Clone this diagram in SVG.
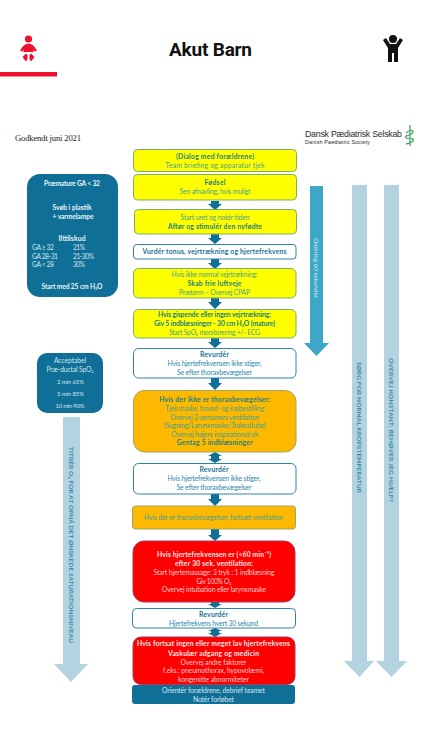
<svg xmlns="http://www.w3.org/2000/svg" width="422" height="750" viewBox="0 0 422 750">
<style>
text{font-family:"Lato","Open Sans",sans-serif;text-anchor:middle;font-size:6.800px}
.y{fill:#4aa08c}.yb{fill:#1c7f7e;font-weight:700}
.w{fill:#2a86ad}.wb{fill:#17709a;font-weight:700}
.r{fill:#ffc9c9}.rb{fill:#ffeaea;font-weight:700}
.n{fill:#cfe6f0}.nb{fill:#e8f4f9;font-weight:700}
.s{text-anchor:start}
.sm{font-size:6.700px}
.ybox{fill:#ffff00;stroke:#79ad6b;stroke-width:1}
.wbox{fill:#fff;stroke:#2f83a8;stroke-width:1}
.obox{fill:#fcb900;stroke:#9ea860;stroke-width:1}
.rbox{fill:#ff0000;stroke:#a83a5a;stroke-width:1}
.nbox{fill:#0f6f96}
.ar{fill:#0f6f96}
.pale{fill:#b2d3df}
.v{fill:#1f7fa6;font-size:6.500px;font-weight:600}
</style>
<rect width="422" height="750" fill="#fff"/>

<g id="header">
<g id="baby-icon" fill="#f01030">
<circle cx="28.500" cy="39" r="3.600"/>
<path d="M20 50.500 Q24 43.500 28.500 43.500 Q33 43.500 37 50.500 L34.500 51.500 L33 49.500 Q33 51 34 52 L23 52 Q24 51 24 49.500 L22.500 51.500Z"/>
<path d="M22.500 57 L26 53.500 L27.500 55 L27.500 59 L26 61.500Z M34.500 57 L31 53.500 L29.500 55 L29.500 59 L31 61.500Z"/>
</g>
<rect id="tab-bar" x="0" y="72" width="57" height="4.500" fill="#f01030"/>
<text id="title" x="210.500" y="55.500" textLength="83" style="font-family:Roboto,sans-serif;font-size:19px;font-weight:700;fill:#111">Akut Barn</text>
<g id="child-icon" fill="#111">
<circle cx="393" cy="39" r="4"/>
<path d="M383 40 L386 38 L390 44 L396 44 L400 38 L403 40 L398 48 L398 62 L394 62 L394 53 L392 53 L392 62 L388 62 L388 48Z"/>
</g>
<text id="approved" x="48" y="140.500" textLength="66" style="font-family:'Liberation Serif',serif;font-size:8.600px;fill:#222">Godkendt juni 2021</text>
<g id="logo">
<text class="s" x="305" y="137" textLength="97" style="font-family:'Liberation Sans',sans-serif;font-size:8.800px;fill:#2b2b2b">Dansk Pædiatrisk Selskab</text>
<text class="s" x="305" y="143.500" textLength="65" style="font-family:'Liberation Sans',sans-serif;font-size:5.400px;fill:#2b2b2b">Danish Paediatric Society</text>
<path d="M410 125 V146 M406 133 Q410 129 413 131 Q414 134 406 136 Q404 139 413 139 Q415 142 406 144" fill="none" stroke="#4ea66a" stroke-width="1.300"/>
</g>
</g>

<g id="connectors">
<path class="ar" d="M211 201H219V204H222L215 210L208 204H211Z"/>
<path class="ar" d="M211 234H219V238H222L215 244L208 238H211Z"/>
<path class="ar" d="M211 259H219V263H222L215 269L208 263H211Z"/>
<path class="ar" d="M211 298H219V302H222L215 309L208 302H211Z"/>
<path class="ar" d="M211 338H219V342H222L215 348L208 342H211Z"/>
<path class="ar" d="M211 378H219V383H222L215 390L208 383H211Z"/>
<path class="ar" d="M215 452L222 456H219V459H222L215 463L208 459H211V456H208Z"/>
<path class="ar" d="M211 494H219V499H222L215 506L208 499H211Z"/>
<path class="ar" d="M211 529H219V535H222L215 541L208 535H211Z"/>
<path class="ar" d="M211 602H219V604H222L215 608L208 604H211Z"/>
<path class="ar" d="M215 628L222 631H219V633H222L215 637L208 633H211V631H208Z"/>
<path id="arrow-timer" fill="#3ea6c6" d="M310 186H323V343H329L316.500 356L304 343H310Z"/>
<path id="arrow-temp" class="pale" d="M352 185H367V661H374L359.500 677L344 661H352Z"/>
<path id="arrow-help" class="pale" d="M384 185H399V661H407L391.500 677L376 661H384Z"/>
<path id="arrow-titrate" class="pale" d="M63 417H80V664H88L71 682L54 664H63Z"/>
<text transform="translate(314.300 268) rotate(90)" textLength="60" style="font-size:6.300px;fill:#d8eef6">Omkring 60 sekunder</text>
<text class="v" transform="translate(357 427.500) rotate(90)" textLength="131">SØRG FOR NORMAL KROPSTEMPERATUR</text>
<text class="v" transform="translate(389.200 430) rotate(90)" textLength="144">OVERVEJ KONSTANT: BEHØVER JEG HJÆLP?</text>
<text class="v" transform="translate(68.700 545) rotate(90)" textLength="196">TITRÉR O₂ FOR AT OPNÅ DET ØNSKEDE SATURATIONSNIVEAU</text>
</g>

<g id="n1"><rect class="ybox" x="133.500" y="149.500" width="163" height="22" rx="4"/>
<text class="yb" x="215" y="159" textLength="78">(Dialog med forældrene)</text><text class="y" x="215" y="168" textLength="99">Team briefing og apparatur tjek</text></g>
<g id="n2"><rect class="ybox" x="133.500" y="174.500" width="163" height="25.500" rx="4"/>
<text class="yb" x="215" y="185" textLength="21">Fødsel</text><text class="y" x="215" y="194" textLength="71">Sen afnavling, hvis muligt</text></g>
<g id="n3"><rect class="ybox" x="134.500" y="209.500" width="162" height="24.500" rx="4"/>
<text class="y" x="215" y="220" textLength="69">Start uret og notér tiden</text><text class="yb" x="215" y="229" textLength="94">Aftør og stimulér den nyfødte</text></g>
<g id="n4"><rect class="wbox" x="133.500" y="244.500" width="162.500" height="14.500" rx="3"/>
<text class="wb" x="214.500" y="254" textLength="144">Vurdér tonus, vejrtrækning og hjertefrekvens</text></g>
<g id="n5"><rect class="ybox" x="133.500" y="268.500" width="162.500" height="29.500" rx="5"/>
<text class="y" x="214.500" y="277" textLength="86">Hvis ikke normal vejrtrækning:</text><text class="yb" x="214.500" y="286" textLength="54">Skab frie luftveje</text><text class="y" x="214.500" y="295" textLength="71">Præterm – Overvej CPAP</text></g>
<g id="n6"><rect class="ybox" x="133.500" y="309.500" width="162.500" height="28.500" rx="5"/>
<text class="yb" x="214.500" y="317" textLength="113">Hvis gispende eller ingen vejrtrækning:</text><text class="yb" x="214.500" y="326" textLength="121">Giv 5 indblæsninger - 30 cm H₂O (mature)</text><text class="y" x="214.500" y="334.500" textLength="91">Start SpO₂ monitorering +/- ECG</text></g>
<g id="n7"><rect class="wbox" x="133.500" y="348.500" width="162.500" height="29.500" rx="5"/>
<text class="wb" x="214.500" y="357" textLength="29">Revurdér</text><text class="w" x="214.500" y="366" textLength="94">Hvis hjertefrekvensen ikke stiger,</text><text class="w" x="214.500" y="375" textLength="75">Se efter thoraxbevægelser</text></g>
<g id="n8"><rect class="obox" x="133.500" y="390.500" width="162.500" height="61.500" rx="11"/>
<text class="yb" x="214.700" y="402" textLength="111">Hvis der ikke er thoraxbevægelser:</text><text class="y" x="214.700" y="411" textLength="99">Tjek maske, hoved- og kæbestilling</text><text class="y" x="214.700" y="419.500" textLength="89">Overvej 2-personers ventilation</text><text class="y" x="214.700" y="428" textLength="102">(Sugning/Larynxmaske/Trakealtube)</text><text class="y" x="214.700" y="436.500" textLength="87">Overvej højere inspirationstryk</text><text class="yb" x="214.700" y="445" textLength="76">Gentag 5 indblæsninger</text></g>
<g id="n9"><rect class="wbox" x="133.500" y="463.500" width="162.500" height="30.500" rx="5"/>
<text class="wb" x="214" y="472" textLength="29">Revurdér</text><text class="w" x="214" y="481" textLength="93">Hvis hjertefrekvensen ikke stiger,</text><text class="w" x="214" y="489.500" textLength="75">Se efter thoraxbevægelser</text></g>
<g id="n10"><rect class="obox" x="132.500" y="506" width="163" height="23" rx="3"/>
<text class="y" x="213.500" y="520" textLength="139">Hvis der er thoraxbevægelser, fortsæt ventilation</text></g>
<g id="n11"><rect class="rbox" x="133" y="541" width="162" height="61" rx="11"/>
<text class="rb" x="214" y="557" textLength="114">Hvis hjertefrekvensen er (&lt;60 min⁻¹)</text><text class="rb" x="214" y="566" textLength="78">efter 30 sek. ventilation:</text><text class="r" x="214" y="575" textLength="121">Start hjertemassage: 3 tryk : 1 indblæsning</text><text class="r" x="214" y="584" textLength="35">Giv 100% O₂</text><text class="r" x="214" y="592" textLength="104">Overvej intubation eller larynxmaske</text></g>
<g id="n12"><rect class="wbox" x="132.500" y="608.500" width="163" height="19.500" rx="4"/>
<text class="wb" x="213.500" y="617" textLength="29">Revurdér</text><text class="w" x="213.500" y="625.500" textLength="89">Hjertefrekvens hvert 30 sekund</text></g>
<g id="n13"><rect class="rbox" x="133" y="637" width="162" height="47.500" rx="8"/>
<text class="rb" x="213.500" y="646" textLength="153">Hvis fortsat ingen eller meget lav hjertefrekvens</text><text class="rb" x="213.500" y="656" textLength="91">Vaskulær adgang og medicin</text><text class="r" x="213.500" y="664.500" textLength="66">Overvej andre faktorer</text><text class="r" x="213.500" y="673" textLength="101">f.eks.: pneumothorax, hypovolæmi,</text><text class="r" x="213.500" y="682" textLength="71">kongenitte abnormiteter</text></g>
<g id="n14"><rect class="nbox" x="132" y="685" width="163" height="19" rx="3"/>
<text class="n" x="213.500" y="693" textLength="103">Orientér forældrene, debrief teamet</text><text class="n" x="213.500" y="701.500" textLength="41">Notér forløbet</text></g>

<g id="side-premature"><rect class="nbox" x="27" y="174" width="91" height="123" rx="13"/>
<text class="nb sm" x="72" y="186" textLength="56">Præmature GA &lt; 32</text><text class="nb sm" x="72" y="210" textLength="39">Svøb i plastik</text><text class="nb sm" x="73" y="219" textLength="41">+ varmelampe</text><text class="nb" x="72" y="241" textLength="27">Ilttilskud</text>
<text class="n s sm" x="32" y="250" textLength="22">GA ≥ 32</text><text class="n s sm" x="73" y="250" textLength="12">21%</text>
<text class="n s sm" x="32" y="258.500" textLength="26">GA 28-31</text><text class="n s sm" x="73" y="258.500" textLength="21">21-30%</text>
<text class="n s sm" x="32" y="267" textLength="22">GA &lt; 28</text><text class="n s sm" x="73" y="267" textLength="12">30%</text>
<text class="nb sm" x="72" y="289" textLength="61">Start med 25 cm H₂O</text></g>
<g id="side-spo2"><rect class="nbox" x="37" y="353" width="66" height="60" rx="10"/>
<text class="n sm" x="70" y="363" textLength="32">Acceptabel</text><text class="n sm" x="70" y="372" textLength="47">Præ-ductal SpO₂</text><text class="n" x="70.500" y="384" textLength="27" style="font-size:6px">2 min 65%</text><text class="n" x="70.500" y="396" textLength="27" style="font-size:6px">5 min 85%</text><text class="n" x="70" y="408" textLength="29" style="font-size:6px">10 min 90%</text></g>
</svg>
